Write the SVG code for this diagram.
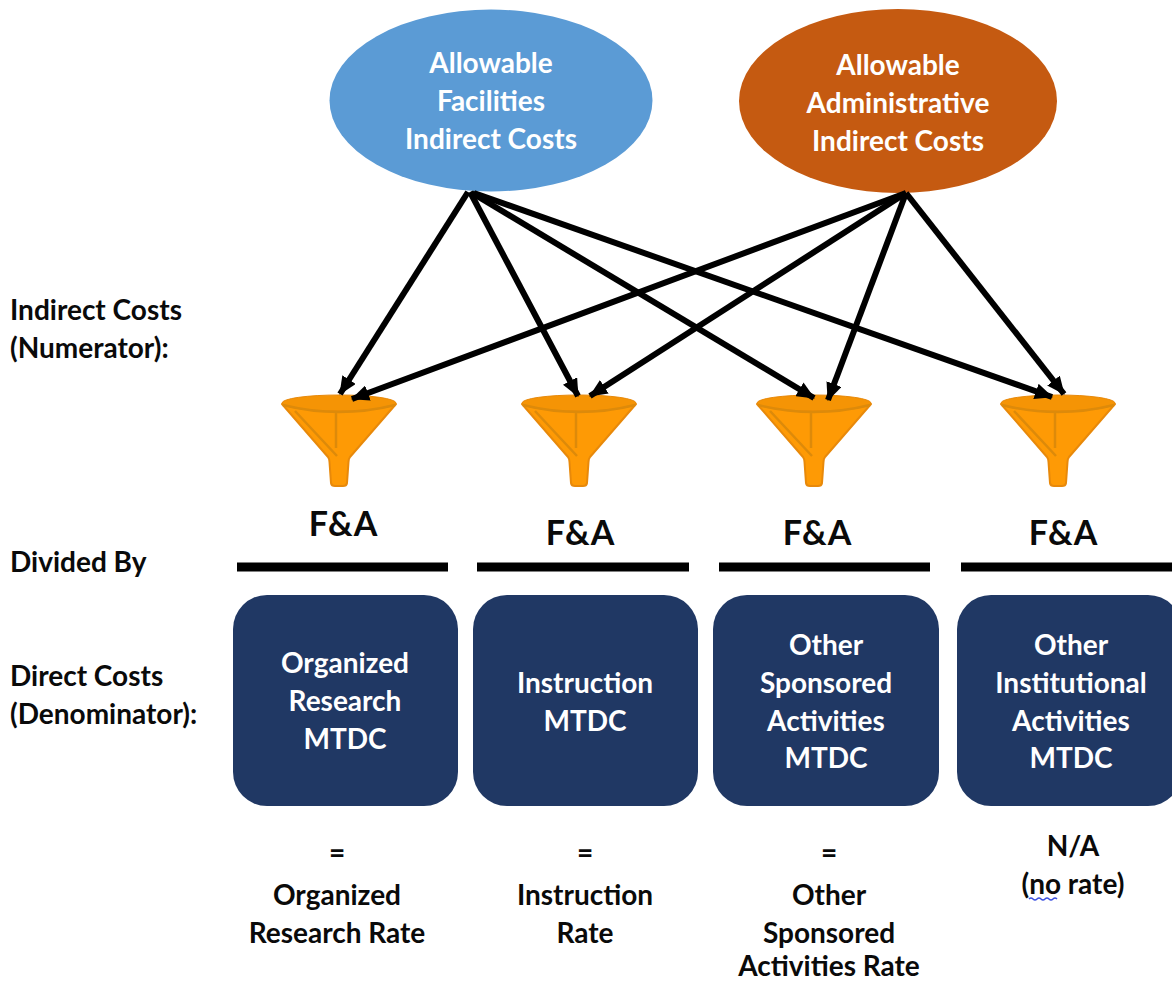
<svg xmlns="http://www.w3.org/2000/svg" width="1172" height="982" viewBox="0 0 1172 982">
<style>
text{font-family:Lato,"Open Sans",sans-serif;font-weight:700;font-size:28px;fill:#0a0a0a;text-anchor:middle;transform:translateY(1px)}
.l{text-anchor:start}
.w{fill:#fff}
.f{font-size:34px}
.box{fill:#203864}
.bar{stroke:#000;stroke-width:9;fill:none}
.c{stroke:#000;stroke-width:6;fill:none;marker-end:url(#a)}
.fo{fill:#fe9a05;stroke:#e8890a;stroke-width:2;stroke-linejoin:round}
.rim{fill:#f59405;stroke:#e8890a;stroke-width:1}
.fd{fill:none;stroke:#dd8a0a;stroke-width:2.500}
</style>
<defs>
<marker id="a" markerUnits="userSpaceOnUse" markerWidth="20" markerHeight="16" refX="17" refY="8" orient="auto"><path d="M0 0L18 8L0 16z" fill="#000"/></marker>
<g id="fn">
<path class="fo" d="M-57 0L-11 53Q-9.500 55-9.500 58L-8 79Q-7.500 82-4 82H4Q7.500 82 8 79L9.500 58Q9.500 55 11 53L57 0z"/>
<ellipse class="rim" cx="0" cy="-1" rx="57" ry="8"/>
<path class="fd" d="M-44 7L-2 52M-3 9V44M-56 1Q0 15 56 1"/>
</g>
</defs>
<g id="node-facilities"><ellipse cx="491" cy="100.500" rx="161.500" ry="91" fill="#5b9bd5"/>
<text class="w" x="491" y="72">Allowable</text><text class="w" x="491" y="110">Facilities</text><text class="w" x="491" y="148">Indirect Costs</text></g>
<g id="node-admin"><ellipse cx="898" cy="101" rx="159" ry="92" fill="#c55a11"/>
<text class="w" x="898" y="74">Allowable</text><text class="w" x="898" y="112">Administrative</text><text class="w" x="898" y="150">Indirect Costs</text></g>
<g id="funnel-1"><use href="#fn" x="339" y="404"/></g>
<g id="funnel-2"><use href="#fn" x="579" y="404"/></g>
<g id="funnel-3"><use href="#fn" x="814" y="404"/></g>
<g id="funnel-4"><use href="#fn" x="1058" y="404"/></g>
<g id="connectors">
<path class="c" d="M468 192L340 394"/>
<path class="c" d="M470 192L578 396"/>
<path class="c" d="M472 193L814 398"/>
<path class="c" d="M474 193L1052 397"/>
<path class="c" d="M906 193L352 399"/>
<path class="c" d="M906 193L590 396"/>
<path class="c" d="M906 193L828 400"/>
<path class="c" d="M906 193L1064 394"/>
</g>
<g id="labels-left">
<text class="l" x="10" y="319">Indirect Costs</text><text class="l" x="10" y="357">(Numerator):</text>
<text class="l" x="10" y="571">Divided By</text>
<text class="l" x="10" y="685">Direct Costs</text><text class="l" x="10" y="723">(Denominator):</text>
</g>
<g id="fa-labels">
<text class="f" x="343" y="535">F&amp;A</text><text class="f" x="580" y="544">F&amp;A</text><text class="f" x="817" y="544">F&amp;A</text><text class="f" x="1063" y="544">F&amp;A</text>
</g>
<g id="bars">
<path class="bar" d="M237 567H448M477 567H689M719 567H930M961 567H1172"/>
</g>
<g id="box-research"><rect class="box" x="233" y="595" width="225" height="211" rx="34"/>
<text class="w" x="345" y="672">Organized</text><text class="w" x="345" y="710">Research</text><text class="w" x="345" y="748">MTDC</text></g>
<g id="box-instruction"><rect class="box" x="473" y="595" width="225" height="211" rx="34"/>
<text class="w" x="585" y="692">Instruction</text><text class="w" x="585" y="730">MTDC</text></g>
<g id="box-sponsored"><rect class="box" x="713" y="595" width="226" height="211" rx="34"/>
<text class="w" x="826" y="654">Other</text><text class="w" x="826" y="692">Sponsored</text><text class="w" x="826" y="730">Activities</text><text class="w" x="826" y="767">MTDC</text></g>
<g id="box-institutional"><rect class="box" x="957" y="595" width="225" height="211" rx="34"/>
<text class="w" x="1071" y="654">Other</text><text class="w" x="1071" y="692">Institutional</text><text class="w" x="1071" y="730">Activities</text><text class="w" x="1071" y="767">MTDC</text></g>
<g id="results">
<text x="337" y="862">=</text><text x="337" y="904">Organized</text><text x="337" y="942">Research Rate</text>
<text x="585" y="862">=</text><text x="585" y="904">Instruction</text><text x="585" y="942">Rate</text>
<text x="829" y="862">=</text><text x="829" y="904">Other</text><text x="829" y="942">Sponsored</text><text x="829" y="975">Activities Rate</text>
<text x="1073" y="855">N/A</text><text x="1073" y="893">(no rate)</text>
<path d="M1029 899q2-2 4 0t4 0 4 0 4 0 4 0 4 0 4 0" fill="none" stroke="#3a4fe0" stroke-width="1.500"/>
</g>
</svg>
